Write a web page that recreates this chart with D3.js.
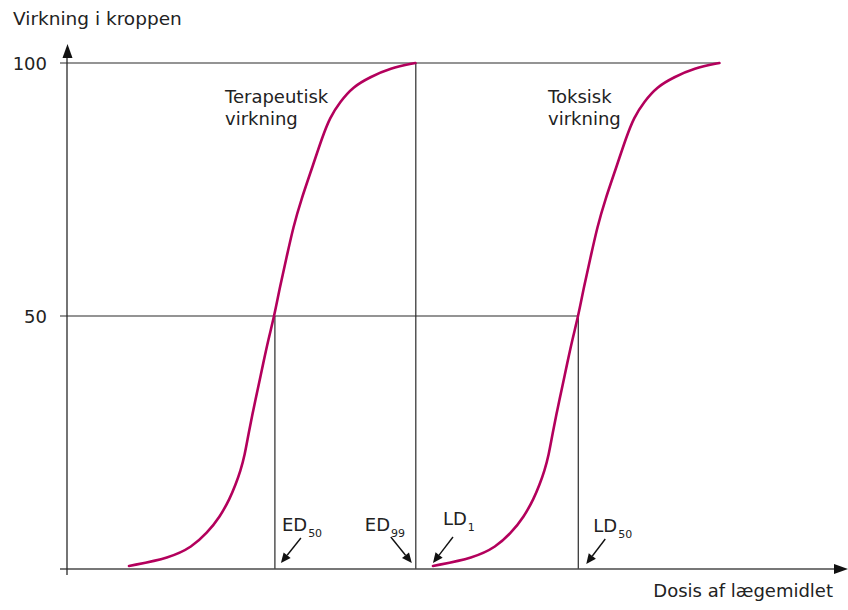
<!DOCTYPE html>
<html>
<head>
<meta charset="utf-8">
<script src="https://cdn.jsdelivr.net/npm/d3@7"></script>
<style>
  html, body { margin: 0; padding: 0; background: #fff; }
  svg { display: block; }
  text { font-family: "DejaVu Sans", "Open Sans", sans-serif; fill: #222; }
</style>
</head>
<body>
<svg id="chart" width="848" height="610"></svg>
<script>
// ---- Data (dose in arbitrary units, effect in %) ----
const therapeuticDose   = [0.805, 1.338, 1.623, 1.818, 1.987, 2.117, 2.188, 2.253, 2.308, 2.357, 2.419, 2.484, 2.549, 2.614, 2.692, 2.766, 2.853, 2.939, 3.039, 3.195, 3.312, 3.416, 3.545, 3.714, 3.935, 4.195, 4.525];
const therapeuticEffect = [0.6, 2.2, 4.35, 7.1, 10.3, 14.0, 16.6, 19.4, 22.5, 26.7, 31.4, 36.0, 40.7, 45.3, 50, 55.8, 61.7, 67.6, 72.9, 79.8, 85.2, 89.3, 92.3, 95.3, 97.2, 99.0, 100];
const toxicDose   = [4.753, 5.286, 5.571, 5.766, 5.935, 6.065, 6.136, 6.201, 6.256, 6.305, 6.367, 6.432, 6.497, 6.562, 6.640, 6.714, 6.801, 6.887, 6.987, 7.143, 7.260, 7.364, 7.493, 7.662, 7.883, 8.143, 8.473];
const toxicEffect = [0.6, 2.2, 4.35, 7.1, 10.3, 14.0, 16.6, 19.4, 22.5, 26.7, 31.4, 36.0, 40.7, 45.3, 50, 55.8, 61.7, 67.6, 72.9, 79.8, 85.2, 89.3, 92.3, 95.3, 97.2, 99.0, 100];

const yTicks = [50, 100];
const keyDoses = { ED50: 2.70, ED99: 4.53, LD1: 4.74, LD50: 6.64, maxToxic: 8.473 };
const markerLabels = [
  { main: "ED", sub: "50", dose: 2.70 },
  { main: "ED", sub: "99", dose: 4.53 },
  { main: "LD", sub: "1",  dose: 4.74 },
  { main: "LD", sub: "50", dose: 6.64 }
];
const curveLabels = [
  { lines: ["Terapeutisk", "virkning"], dose: 2.052 },
  { lines: ["Toksisk", "virkning"], dose: 6.247 }
];
const yTitle = "Virkning i kroppen";
const xTitle = "Dosis af lægemidlet";

// ---- Layout ----
const svg = d3.select("#chart");
const x = d3.scaleLinear().domain([0, 10]).range([67, 837]);
const y = d3.scaleLinear().domain([0, 100]).range([569, 63]);
const lineColor = "#2a2a2a";
const curveColor = "#b3005c";

// reference lines
const g = svg.append("g");
g.append("line").attr("x1", x(0) - 7).attr("x2", x(keyDoses.maxToxic))
  .attr("y1", y(100)).attr("y2", y(100)).attr("stroke", lineColor).attr("stroke-width", 1.2);
g.append("line").attr("x1", x(0) - 7).attr("x2", x(keyDoses.LD50))
  .attr("y1", y(50)).attr("y2", y(50)).attr("stroke", lineColor).attr("stroke-width", 1.2);
[[keyDoses.ED50, 50], [keyDoses.ED99, 100], [keyDoses.LD50, 50]].forEach(([d, top]) => {
  g.append("line").attr("x1", x(d)).attr("x2", x(d))
    .attr("y1", y(top)).attr("y2", y(0)).attr("stroke", lineColor).attr("stroke-width", 1.2);
});

// axes
const axisColor = "#4a4a4a";
svg.append("line").attr("x1", x(0) - 7).attr("x2", 840).attr("y1", y(0)).attr("y2", y(0))
  .attr("stroke", axisColor).attr("stroke-width", 1.6);
svg.append("path").attr("d", d3.line()([[848, y(0)], [834, y(0) - 5], [834, y(0) + 5]]) + "Z")
  .attr("fill", "#111");
svg.append("line").attr("x1", x(0)).attr("x2", x(0)).attr("y1", y(0) + 6).attr("y2", 52)
  .attr("stroke", lineColor).attr("stroke-width", 1.3);
svg.append("path").attr("d", d3.line()([[x(0) + 0.5, 44], [x(0) - 4.5, 58], [x(0) + 5.5, 58]]) + "Z")
  .attr("fill", "#111");

// y tick labels
svg.selectAll(".ytick").data(yTicks).join("text")
  .attr("class", "ytick")
  .attr("x", 47).attr("y", d => y(d) + 7)
  .attr("text-anchor", "end").attr("font-size", 18).text(d => d);

// axis titles
svg.append("text").attr("x", 13).attr("y", 25).attr("font-size", 18.5).text(yTitle);
svg.append("text").attr("x", 833).attr("y", 597).attr("text-anchor", "end").attr("font-size", 18).text(xTitle);

// curves
const line = d3.line().x(d => x(d[0])).y(d => y(d[1])).curve(d3.curveBasis);
const series = [
  d3.zip(therapeuticDose, therapeuticEffect),
  d3.zip(toxicDose, toxicEffect)
];
svg.selectAll(".curve").data(series).join("path")
  .attr("class", "curve")
  .attr("d", line).attr("fill", "none").attr("stroke", curveColor)
  .attr("stroke-width", 2.6).attr("stroke-linecap", "round");

// curve labels
curveLabels.forEach(cl => {
  const t = svg.append("text").attr("x", x(cl.dose)).attr("y", 103).attr("font-size", 18);
  cl.lines.forEach((s, i) => t.append("tspan").attr("x", x(cl.dose)).attr("dy", i ? 22 : 0).text(s));
});

// marker labels & arrows (offsets relative to marker dose, in px)
const arrowSpec = {
  "ED50": { tx: 7,   ty: 531, tail: [26, 538], tip: [6, 563] },
  "ED99": { tx: -51, ty: 531, tail: [-25, 537], tip: [-4, 563] },
  "LD1":  { tx: 11,  ty: 525, tail: [21, 537], tip: [1, 563] },
  "LD50": { tx: 15,  ty: 532, tail: [27, 539], tip: [8, 564] }
};
markerLabels.forEach(m => {
  const spec = arrowSpec[m.main + m.sub];
  const px = x(m.dose);
  const t = svg.append("text").attr("x", px + spec.tx).attr("y", spec.ty).attr("font-size", 18);
  t.append("tspan").text(m.main);
  t.append("tspan").attr("dx", 1).attr("dy", 6).attr("font-size", 11).text(m.sub);
  const x1 = px + spec.tail[0], y1 = spec.tail[1], x2 = px + spec.tip[0], y2 = spec.tip[1];
  const ang = Math.atan2(y2 - y1, x2 - x1);
  const hl = 10, hw = 4.5;
  const bx = x2 - hl * Math.cos(ang), by = y2 - hl * Math.sin(ang);
  svg.append("line").attr("x1", x1).attr("y1", y1).attr("x2", bx).attr("y2", by)
    .attr("stroke", "#111").attr("stroke-width", 1.4);
  svg.append("path").attr("d", d3.line()([
    [x2, y2],
    [bx + hw * Math.sin(ang), by - hw * Math.cos(ang)],
    [bx - hw * Math.sin(ang), by + hw * Math.cos(ang)]
  ]) + "Z").attr("fill", "#111");
});
</script>
</body>
</html>
